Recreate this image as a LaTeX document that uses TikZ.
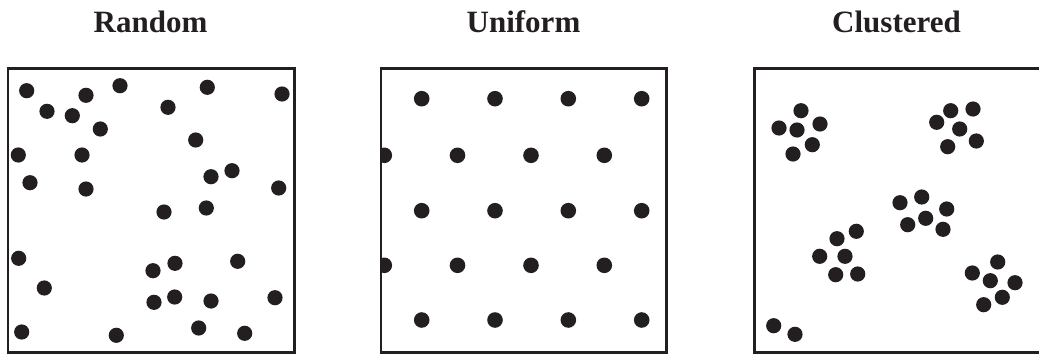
\documentclass[tikz,border=0pt]{standalone}
\usepackage{fontspec}
\setmainfont{Liberation Serif}
\definecolor{ink}{HTML}{231F20}
\begin{document}
\begin{tikzpicture}[x=1pt,y=-1pt,
  frame/.style={draw=ink,line width=2.4pt},
  dot/.style={fill=ink,draw=none},
  ttl/.style={font=\fontsize{31}{31}\selectfont\bfseries,text=ink,anchor=base}]
\useasboundingbox (0,0) rectangle (1039,356);
\clip (0,0) rectangle (1039,356);
% titles
\node[ttl] (t1) at (150.5,32.5) {Random};
\node[ttl] (t2) at (523.5,32.5) {Uniform};
\node[ttl] (t3) at (896.5,32.5) {Clustered};
% Random
\foreach \x/\y in {26.7/90.7,86/95.3,120/85.7,207.3/87.3,282/94,47/111.3,72.3/115.7,168/107.3,100.3/129,195.7/140,18.3/155,82/155,30/182.7,86/189,211/176.7,232/170.7,278.7/188,164/212,206.3/208,18.7/258.3,175/263.3,153/270.7,237.7/261.3,44.3/288,174.7/297,154/302.3,211/301,275/297.7,21.7/332,116.3/335.3,198.7/328,244.7/333.3}
  \fill[dot] (\x,\y) circle (7.6);
\draw[frame] (8,68.5) rectangle (294.5,352.5);
% Uniform
\begin{scope}
\clip (381,68.5) rectangle (666.5,352.5);
\foreach \y in {98.7,210.7,320}
  \foreach \x in {421.7,495,568.3,641.7}
    \fill[dot] (\x,\y) circle (7.8);
\foreach \y in {155.3,265.3}
  \foreach \x in {384.3,457.5,531,604.3}
    \fill[dot] (\x,\y) circle (7.8);
\end{scope}
\draw[frame] (381,68.5) rectangle (666.5,352.5);
% Clustered
\foreach \x/\y in {801/110.7,779/128,797/130,820/124,812.3/144.7,793/154,
  950.7/110.7,973/109,936.7/122.3,959.7/129,976.3/141,947.7/146.7,
  900/202.7,921.7/197,946.7/209,925.7/218.3,907.7/224.7,943/229.3,
  856.3/231.3,837/238.7,819.7/256.3,845/256.3,835.7/274.7,857.7/274,
  997.7/262,972.3/273,990.3/280.7,1015/282.7,1002.3/297.3,983.7/304.7,
  773.7/325.7,795/334.3}
  \fill[dot] (\x,\y) circle (7.6);
\draw[frame] (754.5,68.5) rectangle (1042,352.5);
\end{tikzpicture}
\end{document}
